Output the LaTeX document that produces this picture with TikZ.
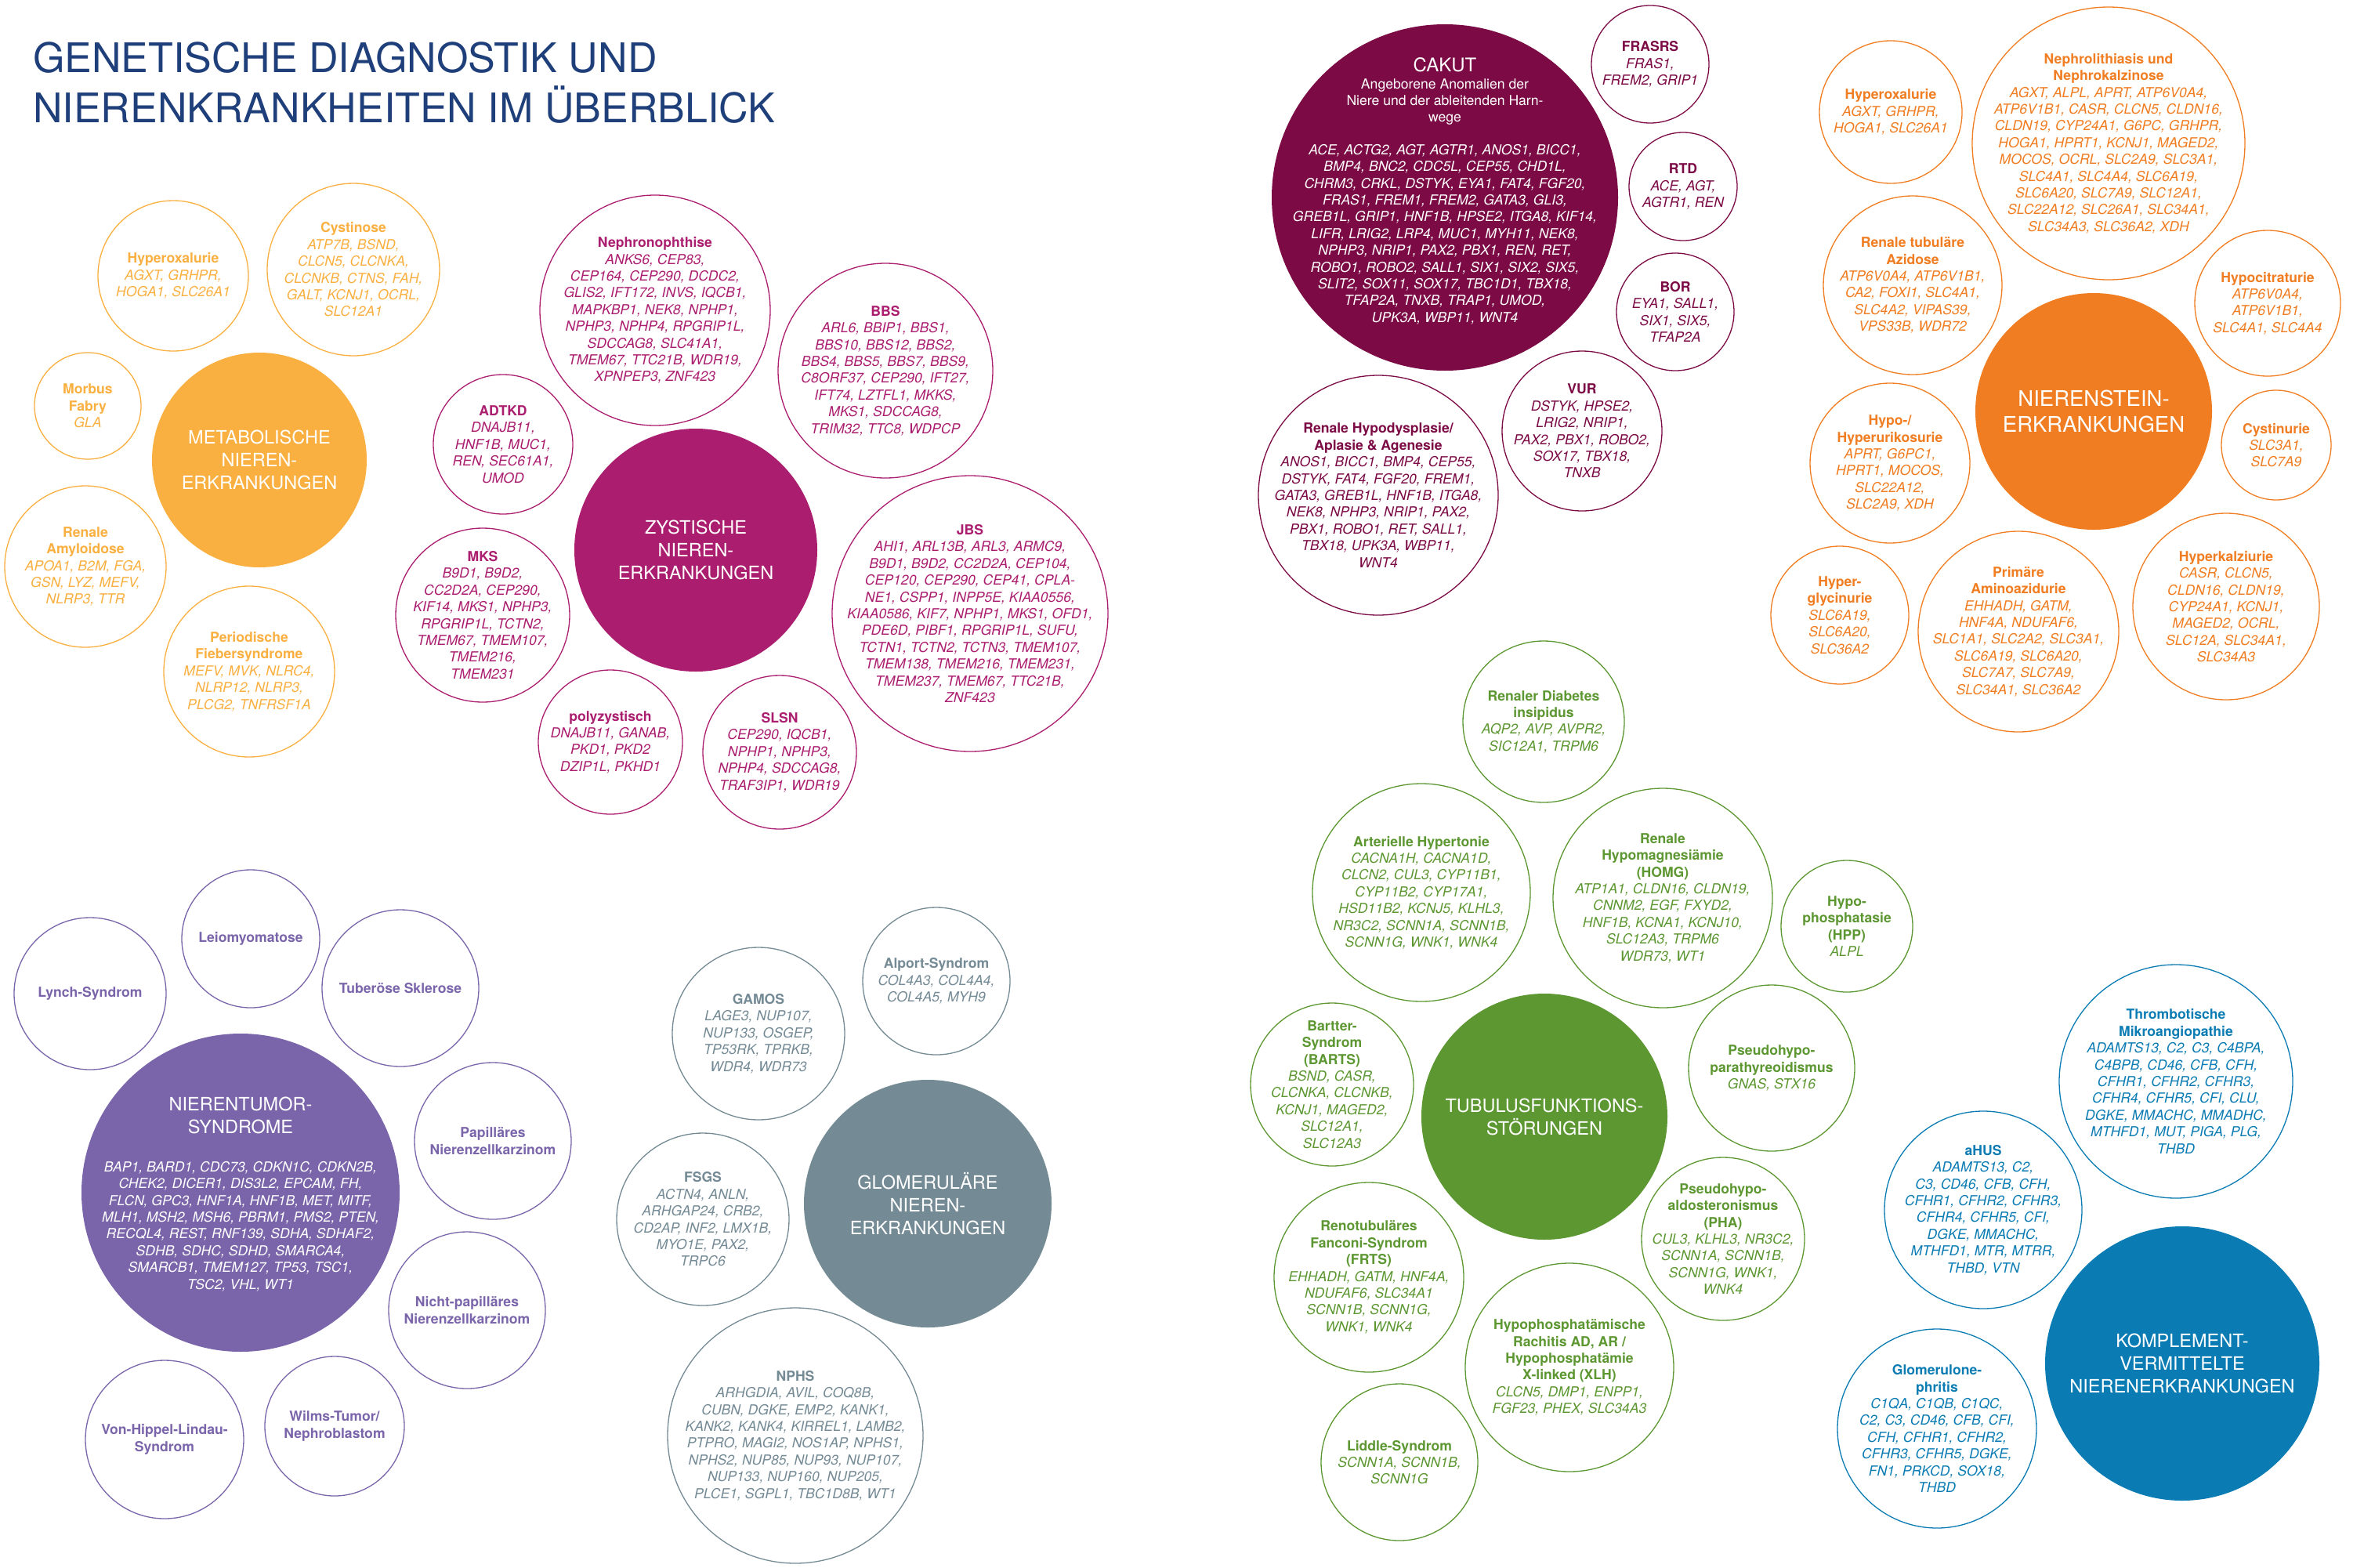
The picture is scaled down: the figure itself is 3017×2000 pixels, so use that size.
\documentclass[tikz,border=0pt]{standalone}
\usepackage{fontspec}
\setmainfont{TeX Gyre Heros}
\definecolor{ctitle}{HTML}{1E3F7A}
\definecolor{cmet}{HTML}{FAB041}
\definecolor{czys}{HTML}{AB1E6F}
\definecolor{ccak}{HTML}{7B0A45}
\definecolor{cnst}{HTML}{F07D21}
\definecolor{ctub}{HTML}{5D9732}
\definecolor{ctum}{HTML}{7A65AA}
\definecolor{cglo}{HTML}{748A95}
\definecolor{ckom}{HTML}{0B7CB3}
\tikzset{
  bubc/.style={circle, draw=#1, line width=1.3pt, inner sep=0pt},
  mainc/.style={circle, fill=#1, draw=none, inner sep=0pt},
  bubt/.style={text=#1, align=center, inner sep=0pt, font=\fontsize{17.6}{21.4}\selectfont\itshape},
  maint/.style={text=white, align=center, inner sep=0pt, font=\fontsize{23.5}{29}\selectfont},
  mainit/.style={text=white, align=center, inner sep=0pt, font=\fontsize{17.6}{21.4}\selectfont\itshape},
  ttl/.style={anchor=base west, text=ctitle, inner sep=0pt, font=\fontsize{52}{63.5}\selectfont},
}
\newcommand\hdr[1]{{\bfseries\upshape #1}}
\newcommand\bub[5]{%
  \node[bubc=#2, minimum size={2*#4pt}] (#1) at (#3) {};
  \node[bubt=#2] (#1-t) at (#1.center) {#5};}
\begin{document}
\begin{tikzpicture}[x=1pt,y=-1pt]
\fill[white] (0,0) rectangle (3017,2000);
\useasboundingbox (0,0) rectangle (3017,2000);

% title
\node[ttl] (title1) at (42,92) {GENETISCHE DIAGNOSTIK UND};
\node[ttl] (title2) at (42,156) {NIERENKRANKHEITEN IM ÜBERBLICK};

% ---------------- Metabolische
\node[mainc=cmet, minimum size=274pt] (met) at (331,587) {};
\node[maint] (met-t) at (met.center) {METABOLISCHE\\NIEREN-\\ERKRANKUNGEN};
\bub{hyperox}{cmet}{221,352}{96}{\hdr{Hyperoxalurie}\\AGXT, GRHPR,\\HOGA1, SLC26A1}
\bub{cystinose}{cmet}{451,344}{110}{\hdr{Cystinose}\\ATP7B, BSND,\\CLCN5, CLCNKA,\\CLCNKB, CTNS, FAH,\\GALT, KCNJ1, OCRL,\\SLC12A1}
\bub{fabry}{cmet}{112,518}{68}{\hdr{Morbus}\\\hdr{Fabry}\\GLA}
\bub{amyl}{cmet}{109,723}{103}{\hdr{Renale}\\\hdr{Amyloidose}\\APOA1, B2M, FGA,\\GSN, LYZ, MEFV,\\NLRP3, TTR}
\bub{fieber}{cmet}{318,857}{109}{\hdr{Periodische}\\\hdr{Fiebersyndrome}\\MEFV, MVK, NLRC4,\\NLRP12, NLRP3,\\PLCG2, TNFRSF1A}

% ---------------- Zystische
\node[mainc=czys, minimum size=310pt] (zys) at (888,702) {};
\node[maint] (zys-t) at (zys.center) {ZYSTISCHE\\NIEREN-\\ERKRANKUNGEN};
\bub{nphp}{czys}{836,396}{147}{\hdr{Nephronophthise}\\ANKS6, CEP83,\\CEP164, CEP290, DCDC2,\\GLIS2, IFT172, INVS, IQCB1,\\MAPKBP1, NEK8, NPHP1,\\NPHP3, NPHP4, RPGRIP1L,\\SDCCAG8, SLC41A1,\\TMEM67, TTC21B, WDR19,\\XPNPEP3, ZNF423}
\bub{bbs}{czys}{1130,473}{137}{\hdr{BBS}\\ARL6, BBIP1, BBS1,\\BBS10, BBS12, BBS2,\\BBS4, BBS5, BBS7, BBS9,\\C8ORF37, CEP290, IFT27,\\IFT74, LZTFL1, MKKS,\\MKS1, SDCCAG8,\\TRIM32, TTC8, WDPCP}
\bub{adtkd}{czys}{642,567}{89}{\hdr{ADTKD}\\DNAJB11,\\HNF1B, MUC1,\\REN, SEC61A1,\\UMOD}
\bub{mks}{czys}{616,785}{111}{\hdr{MKS}\\B9D1, B9D2,\\CC2D2A, CEP290,\\KIF14, MKS1, NPHP3,\\RPGRIP1L, TCTN2,\\TMEM67, TMEM107,\\TMEM216,\\TMEM231}
\bub{jbs}{czys}{1238,783}{176}{\hdr{JBS}\\AHI1, ARL13B, ARL3, ARMC9,\\B9D1, B9D2, CC2D2A, CEP104,\\CEP120, CEP290, CEP41, CPLA-\\NE1, CSPP1, INPP5E, KIAA0556,\\KIAA0586, KIF7, NPHP1, MKS1, OFD1,\\PDE6D, PIBF1, RPGRIP1L, SUFU,\\TCTN1, TCTN2, TCTN3, TMEM107,\\TMEM138, TMEM216, TMEM231,\\TMEM237, TMEM67, TTC21B,\\ZNF423}
\bub{poly}{czys}{779,947}{92}{\hdr{polyzystisch}\\DNAJB11, GANAB,\\PKD1, PKD2\\DZIP1L, PKHD1}
\bub{slsn}{czys}{995,960}{98}{\hdr{SLSN}\\CEP290, IQCB1,\\NPHP1, NPHP3,\\NPHP4, SDCCAG8,\\TRAF3IP1, WDR19}

% ---------------- CAKUT
\node[mainc=ccak, minimum size=442pt] (cakut) at (1844,252) {};
\node[text=white, inner sep=0pt, font=\fontsize{24}{29}\selectfont] (cakut-t) at (1844,83) {CAKUT};
\node[text=white, align=center, inner sep=0pt, font=\fontsize{17.6}{21.4}\selectfont] (cakut-s) at (1844,130) {Angeborene Anomalien der\\Niere und der ableitenden Harn-\\wege};
\node[mainit] (cakut-g) at (1844,299) {ACE, ACTG2, AGT, AGTR1, ANOS1, BICC1,\\BMP4, BNC2, CDC5L, CEP55, CHD1L,\\CHRM3, CRKL, DSTYK, EYA1, FAT4, FGF20,\\FRAS1, FREM1, FREM2, GATA3, GLI3,\\GREB1L, GRIP1, HNF1B, HPSE2, ITGA8, KIF14,\\LIFR, LRIG2, LRP4, MUC1, MYH11, NEK8,\\NPHP3, NRIP1, PAX2, PBX1, REN, RET,\\ROBO1, ROBO2, SALL1, SIX1, SIX2, SIX5,\\SLIT2, SOX11, SOX17, TBC1D1, TBX18,\\TFAP2A, TNXB, TRAP1, UMOD,\\UPK3A, WBP11, WNT4};
\bub{frasrs}{ccak}{2106,82}{75}{\hdr{FRASRS}\\FRAS1,\\FREM2, GRIP1}
\bub{rtd}{ccak}{2148,238}{69}{\hdr{RTD}\\ACE, AGT,\\AGTR1, REN}
\bub{bor}{ccak}{2138,398}{75}{\hdr{BOR}\\EYA1, SALL1,\\SIX1, SIX5,\\TFAP2A}
\bub{vur}{ccak}{2019,550}{102}{\hdr{VUR}\\DSTYK, HPSE2,\\LRIG2, NRIP1,\\PAX2, PBX1, ROBO2,\\SOX17, TBX18,\\TNXB}
\bub{hypodys}{ccak}{1759,632}{153}{\hdr{Renale Hypodysplasie/}\\\hdr{Aplasie \& Agenesie}\\ANOS1, BICC1, BMP4, CEP55,\\DSTYK, FAT4, FGF20, FREM1,\\GATA3, GREB1L, HNF1B, ITGA8,\\NEK8, NPHP3, NRIP1, PAX2,\\PBX1, ROBO1, RET, SALL1,\\TBX18, UPK3A, WBP11,\\WNT4}

% ---------------- Nierenstein
\node[mainc=cnst, minimum size=302pt] (nst) at (2672,525) {};
\node[text=white, align=center, inner sep=0pt, font=\fontsize{27.5}{33}\selectfont] (nst-t) at (nst.center) {NIERENSTEIN-\\ERKRANKUNGEN};
\bub{hyperox2}{cnst}{2413,143}{91}{\hdr{Hyperoxalurie}\\AGXT, GRHPR,\\HOGA1, SLC26A1}
\bub{nephrolith}{cnst}{2691,183}{174}{\hdr{Nephrolithiasis und}\\\hdr{Nephrokalzinose}\\AGXT, ALPL, APRT, ATP6V0A4,\\ATP6V1B1, CASR, CLCN5, CLDN16,\\CLDN19, CYP24A1, G6PC, GRHPR,\\HOGA1, HPRT1, KCNJ1, MAGED2,\\MOCOS, OCRL, SLC2A9, SLC3A1,\\SLC4A1, SLC4A4, SLC6A19,\\SLC6A20, SLC7A9, SLC12A1,\\SLC22A12, SLC26A1, SLC34A1,\\SLC34A3, SLC36A2, XDH}
\bub{rta}{cnst}{2441,364}{114}{\hdr{Renale tubuläre}\\\hdr{Azidose}\\ATP6V0A4, ATP6V1B1,\\CA2, FOXI1, SLC4A1,\\SLC4A2, VIPAS39,\\VPS33B, WDR72}
\bub{hypocit}{cnst}{2894,387}{93}{\hdr{Hypocitraturie}\\ATP6V0A4,\\ATP6V1B1,\\SLC4A1, SLC4A4}
\bub{urik}{cnst}{2412,591}{102}{\hdr{Hypo-/}\\\hdr{Hyperurikosurie}\\APRT, G6PC1,\\HPRT1, MOCOS,\\SLC22A12,\\SLC2A9, XDH}
\bub{cystinurie}{cnst}{2905,568}{70}{\hdr{Cystinurie}\\SLC3A1,\\SLC7A9}
\bub{glycin}{cnst}{2348,785}{88}{\hdr{Hyper-}\\\hdr{glycinurie}\\SLC6A19,\\SLC6A20,\\SLC36A2}
\bub{amino}{cnst}{2576,806}{128}{\hdr{Primäre}\\\hdr{Aminoazidurie}\\EHHADH, GATM,\\HNF4A, NDUFAF6,\\SLC1A1, SLC2A2, SLC3A1,\\SLC6A19, SLC6A20,\\SLC7A7, SLC7A9,\\SLC34A1, SLC36A2}
\bub{kalz}{cnst}{2841,774}{119}{\hdr{Hyperkalziurie}\\CASR, CLCN5,\\CLDN16, CLDN19,\\CYP24A1, KCNJ1,\\MAGED2, OCRL,\\SLC12A, SLC34A1,\\SLC34A3}

% ---------------- Tubulus
\node[mainc=ctub, minimum size=314pt] (tub) at (1971,1425) {};
\node[maint] (tub-t) at (tub.center) {TUBULUSFUNKTIONS-\\STÖRUNGEN};
\bub{diab}{ctub}{1970,921}{103}{\hdr{Renaler Diabetes}\\\hdr{insipidus}\\AQP2, AVP, AVPR2,\\SIC12A1, TRPM6}
\bub{hyperton}{ctub}{1814,1139}{139}{\hdr{Arterielle Hypertonie}\\CACNA1H, CACNA1D,\\CLCN2, CUL3, CYP11B1,\\CYP11B2, CYP17A1,\\HSD11B2, KCNJ5, KLHL3,\\NR3C2, SCNN1A, SCNN1B,\\SCNN1G, WNK1, WNK4}
\bub{homg}{ctub}{2122,1146}{140}{\hdr{Renale}\\\hdr{Hypomagnesiämie}\\\hdr{(HOMG)}\\ATP1A1, CLDN16, CLDN19,\\CNNM2, EGF, FXYD2,\\HNF1B, KCNA1, KCNJ10,\\SLC12A3, TRPM6\\WDR73, WT1}
\bub{hpp}{ctub}{2357,1182}{84}{\hdr{Hypo-}\\\hdr{phosphatasie}\\\hdr{(HPP)}\\ALPL}
\bub{bartter}{ctub}{1700,1384}{104}{\hdr{Bartter-}\\\hdr{Syndrom}\\\hdr{(BARTS)}\\BSND, CASR,\\CLCNKA, CLCNKB,\\KCNJ1, MAGED2,\\SLC12A1,\\SLC12A3}
\bub{pthyr}{ctub}{2261,1363}{106}{\hdr{Pseudohypo-}\\\hdr{parathyreoidismus}\\GNAS, STX16}
\bub{fanconi}{ctub}{1747,1630}{121}{\hdr{Renotubuläres}\\\hdr{Fanconi-Syndrom}\\\hdr{(FRTS)}\\EHHADH, GATM, HNF4A,\\NDUFAF6, SLC34A1\\SCNN1B, SCNN1G,\\WNK1, WNK4}
\bub{pha}{ctub}{2199,1581}{104}{\hdr{Pseudohypo-}\\\hdr{aldosteronismus}\\\hdr{(PHA)}\\CUL3, KLHL3, NR3C2,\\SCNN1A, SCNN1B,\\SCNN1G, WNK1,\\WNK4}
\bub{xlh}{ctub}{2003,1745}{133}{\hdr{Hypophosphatämische}\\\hdr{Rachitis AD, AR /}\\\hdr{Hypophosphatämie}\\\hdr{X-linked (XLH)}\\CLCN5, DMP1, ENPP1,\\FGF23, PHEX, SLC34A3}
\bub{liddle}{ctub}{1786,1866}{100}{\hdr{Liddle-Syndrom}\\SCNN1A, SCNN1B,\\SCNN1G}

% ---------------- Nierentumor
\node[mainc=ctum, minimum size=406pt] (tum) at (307,1522) {};
\node[maint] (tum-t) at (307,1423) {NIERENTUMOR-\\SYNDROME};
\node[mainit] (tum-g) at (307,1565) {BAP1, BARD1, CDC73, CDKN1C, CDKN2B,\\CHEK2, DICER1, DIS3L2, EPCAM, FH,\\FLCN, GPC3, HNF1A, HNF1B, MET, MITF,\\MLH1, MSH2, MSH6, PBRM1, PMS2, PTEN,\\RECQL4, REST, RNF139, SDHA, SDHAF2,\\SDHB, SDHC, SDHD, SMARCA4,\\SMARCB1, TMEM127, TP53, TSC1,\\TSC2, VHL, WT1};
\bub{leio}{ctum}{320,1198}{88}{\hdr{Leiomyomatose}}
\bub{lynch}{ctum}{115,1268}{97}{\hdr{Lynch-Syndrom}}
\bub{tuber}{ctum}{511,1261}{100}{\hdr{Tuberöse Sklerose}}
\bub{pap}{ctum}{629,1456}{100}{\hdr{Papilläres}\\\hdr{Nierenzellkarzinom}}
\bub{npap}{ctum}{596,1672}{100}{\hdr{Nicht-papilläres}\\\hdr{Nierenzellkarzinom}}
\bub{wilms}{ctum}{427,1820}{89}{\hdr{Wilms-Tumor/}\\\hdr{Nephroblastom}}
\bub{vhl}{ctum}{210,1837}{101}{\hdr{Von-Hippel-Lindau-}\\\hdr{Syndrom}}

% ---------------- Glomerulaere
\node[mainc=cglo, minimum size=316pt] (glo) at (1184,1536) {};
\node[maint] (glo-t) at (glo.center) {GLOMERULÄRE\\NIEREN-\\ERKRANKUNGEN};
\bub{alport}{cglo}{1195,1252}{94}{\hdr{Alport-Syndrom}\\COL4A3, COL4A4,\\COL4A5, MYH9}
\bub{gamos}{cglo}{968,1319}{110}{\hdr{GAMOS}\\LAGE3, NUP107,\\NUP133, OSGEP,\\TP53RK, TPRKB,\\WDR4, WDR73}
\bub{fsgs}{cglo}{897,1556}{110}{\hdr{FSGS}\\ACTN4, ANLN,\\ARHGAP24, CRB2,\\CD2AP, INF2, LMX1B,\\MYO1E, PAX2,\\TRPC6}
\bub{nphs}{cglo}{1015,1832}{163}{\hdr{NPHS}\\ARHGDIA, AVIL, COQ8B,\\CUBN, DGKE, EMP2, KANK1,\\KANK2, KANK4, KIRREL1, LAMB2,\\PTPRO, MAGI2, NOS1AP, NPHS1,\\NPHS2, NUP85, NUP93, NUP107,\\NUP133, NUP160, NUP205,\\PLCE1, SGPL1, TBC1D8B, WT1}

% ---------------- Komplement
\node[mainc=ckom, minimum size=350pt] (kom) at (2785,1740) {};
\node[maint] (kom-t) at (kom.center) {KOMPLEMENT-\\VERMITTELTE\\NIERENERKRANKUNGEN};
\bub{tma}{ckom}{2777,1380}{149}{\hdr{Thrombotische}\\\hdr{Mikroangiopathie}\\ADAMTS13, C2, C3, C4BPA,\\C4BPB, CD46, CFB, CFH,\\CFHR1, CFHR2, CFHR3,\\CFHR4, CFHR5, CFI, CLU,\\DGKE, MMACHC, MMADHC,\\MTHFD1, MUT, PIGA, PLG,\\THBD}
\bub{ahus}{ckom}{2531,1544}{126}{\hdr{aHUS}\\ADAMTS13, C2,\\C3, CD46, CFB, CFH,\\CFHR1, CFHR2, CFHR3,\\CFHR4, CFHR5, CFI,\\DGKE, MMACHC,\\MTHFD1, MTR, MTRR,\\THBD, VTN}
\bub{gn}{ckom}{2472,1823}{127}{\hdr{Glomerulone-}\\\hdr{phritis}\\C1QA, C1QB, C1QC,\\C2, C3, CD46, CFB, CFI,\\CFH, CFHR1, CFHR2,\\CFHR3, CFHR5, DGKE,\\FN1, PRKCD, SOX18,\\THBD}
\end{tikzpicture}
\end{document}
